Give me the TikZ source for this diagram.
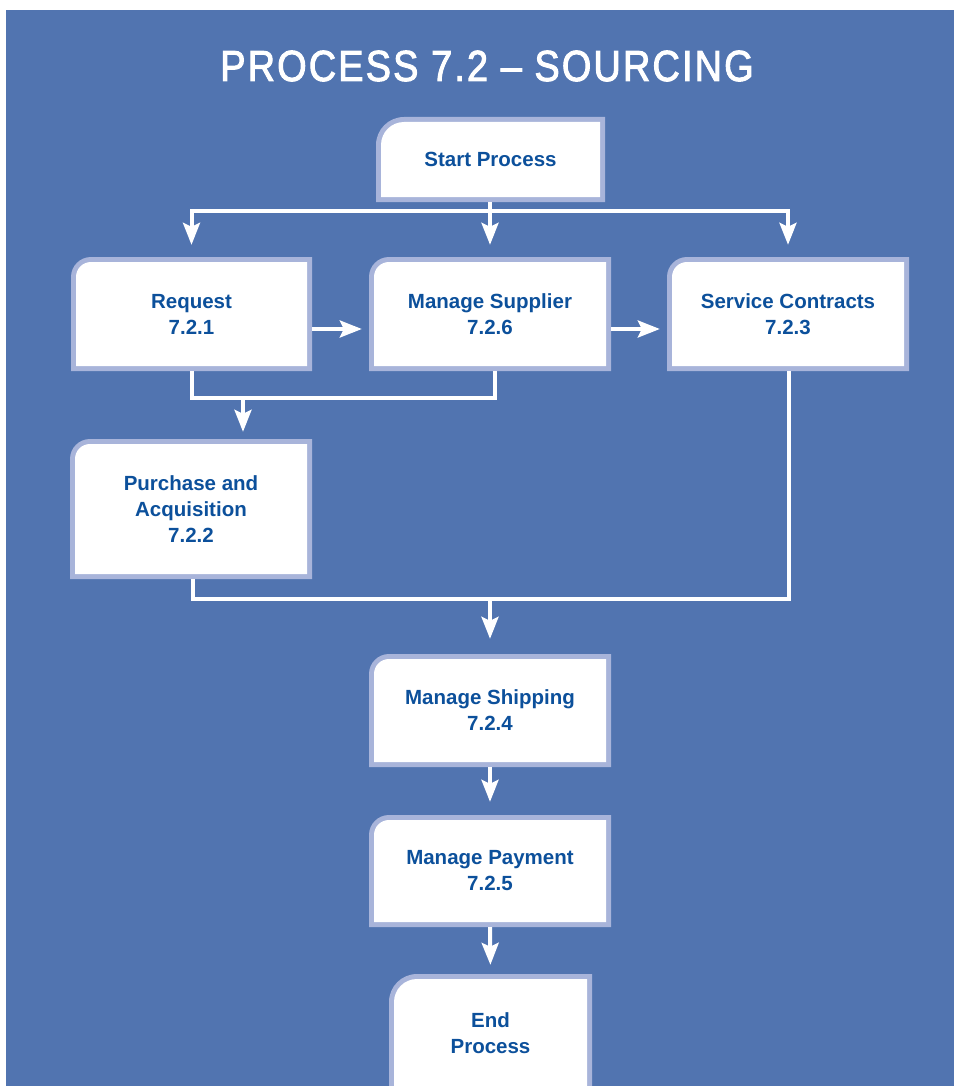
\documentclass[tikz,border=0pt]{standalone}
\usepackage{fontspec}
\setmainfont{Liberation Sans}
\newfontfamily\titlefont[FakeStretch=0.87, LetterSpace=5, FakeBold=2.2]{Liberation Sans}
\usetikzlibrary{arrows.meta}
\definecolor{panel}{HTML}{5174B0}
\definecolor{boxedge}{HTML}{A8B4DA}
\definecolor{boxtext}{HTML}{0C509B}
\tikzset{boxradius/.store in=\boxr, boxradius=20pt}
\begin{document}
\begin{tikzpicture}[x=1pt,y=-1pt,
  procbox/.style={shape=rectangle, inner sep=0pt, align=center,
    text=boxtext, font=\bfseries\fontsize{20.5}{26}\selectfont,
    path picture={
      \fill[boxedge] (path picture bounding box.south west)
        -- ([yshift=-\boxr]path picture bounding box.north west)
        arc[start angle=180, end angle=90, radius=\boxr]
        -- (path picture bounding box.north east)
        -- (path picture bounding box.south east) -- cycle;
      \fill[white] ([shift={(5pt,5pt)}]path picture bounding box.south west)
        -- ([shift={(5pt,-\boxr)}]path picture bounding box.north west)
        arc[start angle=180, end angle=90, radius=\boxr-5pt]
        -- ([shift={(-5pt,-5pt)}]path picture bounding box.north east)
        -- ([shift={(-5pt,5pt)}]path picture bounding box.south east) -- cycle;
    }},
  wire/.style={draw=white, line width=4pt, line join=miter},
  flow/.style={wire, -{Stealth[length=22pt, width=17pt, inset=4pt]}},
]
% page and panel
\useasboundingbox (0,0) rectangle (954,1086);
\fill[white] (0,0) rectangle (954,1086);
\fill[panel] (6,10) rectangle (954,1086);

\node[anchor=base, text=white, font=\titlefont\fontsize{43.5}{50}\selectfont] (title) at (487,81) {PROCESS 7.2 – SOURCING};

% process steps
\node[procbox, boxradius=28pt, minimum width=229pt, minimum height=85pt] (start) at (490.5,159.5) {Start Process};
\node[procbox, minimum width=241pt, minimum height=114pt] (request) at (191.5,314) {Request\\7.2.1};
\node[procbox, minimum width=242pt, minimum height=114pt] (supplier) at (490,314) {Manage Supplier\\7.2.6};
\node[procbox, minimum width=242pt, minimum height=114pt] (service) at (788,314) {Service Contracts\\7.2.3};
\node[procbox, minimum width=242pt, minimum height=140pt] (purchase) at (191,509) {Purchase and\\Acquisition\\7.2.2};
\node[procbox, minimum width=242pt, minimum height=113pt] (shipping) at (490,710.5) {Manage Shipping\\7.2.4};
\node[procbox, minimum width=242pt, minimum height=112pt] (payment) at (490,871) {Manage Payment\\7.2.5};
\node[procbox, boxradius=28pt, minimum width=203pt, minimum height=118pt] (end) at (490.5,1033) {End\\Process};

% junction points
\coordinate (fork) at (490,211);
\coordinate (join1) at (243,398);
\coordinate (join2) at (490,599);

% connectors
\draw[wire] (start.south -| fork) -- (fork);
\draw[flow, shorten >=12pt] (fork) -| (request.north);
\draw[flow, shorten >=12pt] (fork) -| (service.north);
\draw[flow, shorten >=12pt] (fork) -- (supplier.north);
\draw[flow, shorten >=7pt] ([yshift=-15pt]request.east) -- ([yshift=-15pt]supplier.west);
\draw[flow, shorten >=7pt] ([yshift=-15pt]supplier.east) -- ([yshift=-15pt]service.west);
\draw[wire] ([xshift=0.5pt]request.south) |- ([xshift=5pt]supplier.south |- join1) -- ([xshift=5pt]supplier.south);
\draw[flow, shorten >=7pt] (join1) -- (purchase.north -| join1);
\draw[wire] ([xshift=2pt]purchase.south) |- ([xshift=1pt]service.south |- join2) -- ([xshift=1pt]service.south);
\draw[flow, shorten >=15pt] (join2) -- (shipping.north);
\draw[flow, shorten >=13pt] (shipping.south) -- (payment.north);
\draw[flow, shorten >=9pt] (payment.south) -- (end.north);
\end{tikzpicture}
\end{document}
